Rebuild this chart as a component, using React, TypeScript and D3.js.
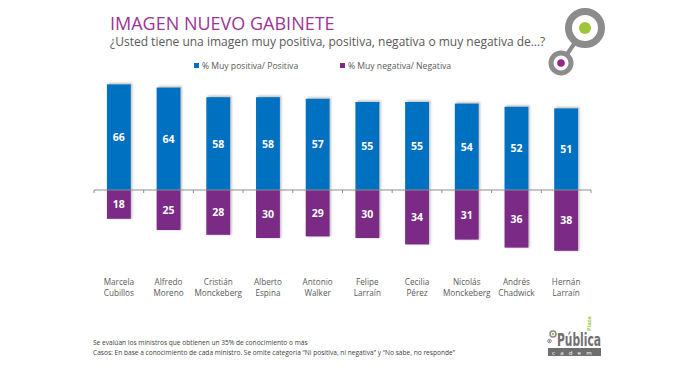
import React from "react";
import * as d3 from "d3";

const categories = [
  ["Marcela", "Cubillos"],
  ["Alfredo", "Moreno"],
  ["Cristián", "Monckeberg"],
  ["Alberto", "Espina"],
  ["Antonio", "Walker"],
  ["Felipe", "Larraín"],
  ["Cecilia", "Pérez"],
  ["Nicolás", "Monckeberg"],
  ["Andrés", "Chadwick"],
  ["Hernán", "Larraín"],
];
const positive = [66, 64, 58, 58, 57, 55, 55, 54, 52, 51];
const negative = [18, 25, 28, 30, 29, 30, 34, 31, 36, 38];
const seriesNames = ["% Muy positiva/ Positiva", "% Muy negativa/ Negativa"];

const BLUE = "#0070c0";
const PURPLE = "#7b2a86";
const FONT = "'Open Sans', 'Noto Sans', sans-serif";

export default function App() {
  const W = 700, H = 368;
  const x = d3.scaleBand<number>().domain(d3.range(categories.length)).range([94, 591]).paddingInner(0.52).paddingOuter(0.26);
  const y = d3.scaleLinear().domain([-40, 70]).range([254, 78]);
  const y0 = y(0);
  const step = x.step();
  const left = 94;
  const bw = x.bandwidth();

  return (
    <svg width={W} height={H} style={{ position: "absolute", left: 0, top: 0, background: "#fff" }} fontFamily={FONT}>
      <defs>
        <filter id="sh" x="-30%" y="-30%" width="160%" height="160%">
          <feGaussianBlur stdDeviation="1" />
        </filter>
      </defs>
      <rect width={W} height={H} fill="#fff" />
      <text x={110} y={29.5} fontSize={18} fill="#9b3596" fontFamily={FONT}>IMAGEN NUEVO GABINETE</text>
      <text x={110} y={45.5} fontSize={12} fill="#595959">¿Usted tiene una imagen muy positiva, positiva, negativa o muy negativa de…?</text>

      {/* top-right logo */}
      <g>
        <line x1={585} y1={28} x2={561} y2={63} stroke="#8c8c8c" strokeWidth={4} />
        <circle cx={585} cy={28} r={16.5} fill="#fff" stroke="#8c8c8c" strokeWidth={7} />
        <circle cx={585} cy={28} r={6} fill="#9dc63b" />
        <circle cx={561} cy={63} r={10} fill="#fff" stroke="#8c8c8c" strokeWidth={5} />
        <circle cx={561} cy={63} r={3.8} fill="#93278f" />
      </g>

      {/* legend */}
      <rect x={194} y={63} width={5} height={5} fill={BLUE} />
      <text x={202} y={68.5} fontSize={8.6} fill="#595959">{seriesNames[0]}</text>
      <rect x={340} y={63} width={5} height={5} fill={PURPLE} />
      <text x={348} y={68.5} fontSize={8.6} fill="#595959">{seriesNames[1]}</text>

      {/* shadows */}
      {positive.map((v, i) => (
        <rect key={"sp" + i} x={(x(i) as number) + 1.5} y={y(v) - 1.5} width={bw} height={y0 - y(v) + 1.5} fill="#9a9a9a" opacity={0.6} filter="url(#sh)" />
      ))}
      {negative.map((v, i) => (
        <rect key={"sn" + i} x={(x(i) as number) + 1.5} y={y0} width={bw} height={y(-v) - y0} fill="#9a9a9a" opacity={0.6} filter="url(#sh)" />
      ))}
      {positive.map((v, i) => (
        <rect key={"p" + i} x={x(i)} y={y(v)} width={bw} height={y0 - y(v)} fill={BLUE} />
      ))}
      {negative.map((v, i) => (
        <rect key={"n" + i} x={x(i)} y={y0} width={bw} height={y(-v) - y0} fill={PURPLE} />
      ))}

      {/* axis */}
      <line x1={left} x2={591} y1={y0} y2={y0} stroke="#8c8c8c" strokeWidth={1} />
      {d3.range(categories.length + 1).map((i) => (
        <line key={"t" + i} x1={left + i * step} x2={left + i * step} y1={y0} y2={y0 + 3} stroke="#8c8c8c" strokeWidth={1} />
      ))}

      {/* value labels */}
      {positive.map((v, i) => (
        <text key={"lp" + i} x={(x(i) as number) + bw / 2} y={(y(v) + y0) / 2 + 4} textAnchor="middle" fontSize={10.5} fontWeight="bold" fill="#fff">{v}</text>
      ))}
      {negative.map((v, i) => (
        <text key={"ln" + i} x={(x(i) as number) + bw / 2} y={(y(-v) + y0) / 2 + 4} textAnchor="middle" fontSize={10.5} fontWeight="bold" fill="#fff">{v}</text>
      ))}

      {/* category labels */}
      {categories.map((c, i) => (
        <text key={"c" + i} x={(x(i) as number) + bw / 2} textAnchor="middle" fontSize={8.2} fill="#595959">
          <tspan x={(x(i) as number) + bw / 2} y={285}>{c[0]}</tspan>
          <tspan x={(x(i) as number) + bw / 2} y={296}>{c[1]}</tspan>
        </text>
      ))}

      {/* footer */}
      <text x={93} y={345} fontSize={6.6} fill="#404040">Se evalúan los ministros que obtienen un 35% de conocimiento o más</text>
      <text x={93} y={355} fontSize={6.6} fill="#404040">Casos: En base a conocimiento de cada ministro. Se omite categoría “Ni positiva, ni negativa” y “No sabe, no responde”</text>

      {/* bottom logo */}
      <g>
        <circle cx={553} cy={334} r={3} fill="none" stroke="#8c8c8c" strokeWidth={1.6} />
        <circle cx={553} cy={334} r={1.2} fill="#9dc63b" />
        <circle cx={549.5} cy={341} r={1.8} fill="none" stroke="#8c8c8c" strokeWidth={1} />
        <circle cx={549.5} cy={341} r={0.7} fill="#93278f" />
        <text x={557} y={346} fontSize={17} fontWeight="bold" fill="#707070" fontFamily="'Liberation Sans Narrow', 'DejaVu Sans Condensed', sans-serif" textLength={44} lengthAdjust="spacingAndGlyphs">Pública</text>
        <text x={591} y={331} fontSize={5.5} fontWeight="bold" fill="#9dc63b" transform="rotate(-90 591 331)" textAnchor="start">Plaza</text>
        <rect x={548} y={348} width={53} height={8} fill="#6e6e6e" />
        <text x={574.5} y={354.5} fontSize={6} fill="#fff" textAnchor="middle" letterSpacing={5.2}>cadem</text>
      </g>
    </svg>
  );
}
